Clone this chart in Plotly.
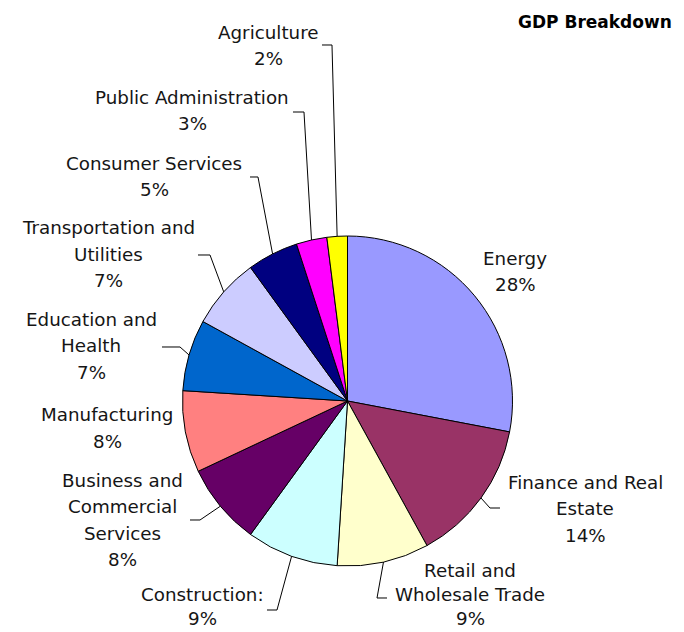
import math
import plotly.graph_objects as go

# ---------------- data ----------------
sectors = ["Energy", "Finance and Real Estate", "Retail and Wholesale Trade",
           "Construction:", "Business and Commercial Services", "Manufacturing",
           "Education and Health", "Transportation and Utilities",
           "Consumer Services", "Public Administration", "Agriculture"]
shares = [28, 14, 9, 9, 8, 8, 7, 7, 5, 3, 2]
label_lines = [["Energy"], ["Finance and Real", "Estate"], ["Retail and", "Wholesale Trade"],
               ["Construction:"], ["Business and", "Commercial", "Services"], ["Manufacturing"],
               ["Education and", "Health"], ["Transportation and", "Utilities"],
               ["Consumer Services"], ["Public Administration"], ["Agriculture"]]
chart_title = "GDP Breakdown"

# ---------------- styles / layout ----------------
colors = ["#9999FF", "#993366", "#FFFFCC", "#CCFFFF", "#660066", "#FF8080",
          "#0066CC", "#CCCCFF", "#000080", "#FF00FF", "#FFFF00"]
W, H = 684, 632
CX, CY, R = 347.5, 401.0, 165.0
LINE_GAP = 26.5
FONT = "DejaVu Sans, Verdana, sans-serif"
FSIZE = 18.3
TXT = "#151515"

# label placement (pixel): centre x, first-line y, leader path (label end, elbow) or None
label_pos = [
    (515, 258, None),
    (585, 482, [(500, 508), (490, 508)]),
    (470, 570, [(387, 598), (377, 598)]),
    (202, 594, [(267, 610), (277, 610)]),
    (122, 480, [(190, 520), (200, 520)]),
    (107, 415, None),
    (91, 319, [(162, 347), (180, 347)]),
    (108, 228, [(198, 255), (210, 255)]),
    (154, 163, [(250, 177), (258, 177)]),
    (192, 97, [(293, 112), (304, 112)]),
    (268, 32, [(322, 45), (332, 45)]),
]


def px(x):
    return x / W


def py(y):
    return 1 - y / H


fig = go.Figure(go.Pie(
    labels=sectors, values=shares, sort=False, direction="clockwise", rotation=0,
    marker=dict(colors=colors, line=dict(color="#000000", width=1)),
    textinfo="none", hoverinfo="label+percent", showlegend=False,
    domain=dict(x=[px(CX - R), px(CX + R)], y=[py(CY + R), py(CY - R)]),
))

annotations = []
shapes = []
total = sum(shares)
cum = 0.0
for name, val, lines, (lx, ly, leader) in zip(sectors, shares, label_lines, label_pos):
    mid = (cum + val / 2) / total * 360.0
    cum += val
    pct = f"{round(val / total * 100)}%"
    gap = LINE_GAP if ly < 560 else 24.0
    for k, t in enumerate(lines + [pct]):
        annotations.append(dict(
            x=px(lx), y=py(ly + k * gap), xref="paper", yref="paper",
            text=t, showarrow=False, xanchor="center", yanchor="middle",
            font=dict(family=FONT, size=FSIZE, color=TXT)))
    if leader:
        ex = CX + R * math.sin(math.radians(mid))
        ey = CY - R * math.cos(math.radians(mid))
        pts = leader + [(ex, ey)]
        path = "M " + " L ".join(f"{px(a):.5f},{py(b):.5f}" for a, b in pts)
        shapes.append(dict(type="path", path=path, xref="paper", yref="paper",
                           line=dict(color="#000000", width=1)))

annotations.append(dict(
    x=px(594.5), y=py(22), xref="paper", yref="paper", text=f"<b>{chart_title}</b>",
    showarrow=False, xanchor="center", yanchor="middle",
    font=dict(family=FONT, size=17, color="#000000")))

fig.update_layout(
    width=W, height=H, margin=dict(l=0, r=0, t=0, b=0),
    paper_bgcolor="white", plot_bgcolor="white",
    annotations=annotations, shapes=shapes,
)

fig.write_html("out.html", config={"displayModeBar": False},
               post_script="document.body.style.margin='0';document.body.style.overflow='hidden';")
